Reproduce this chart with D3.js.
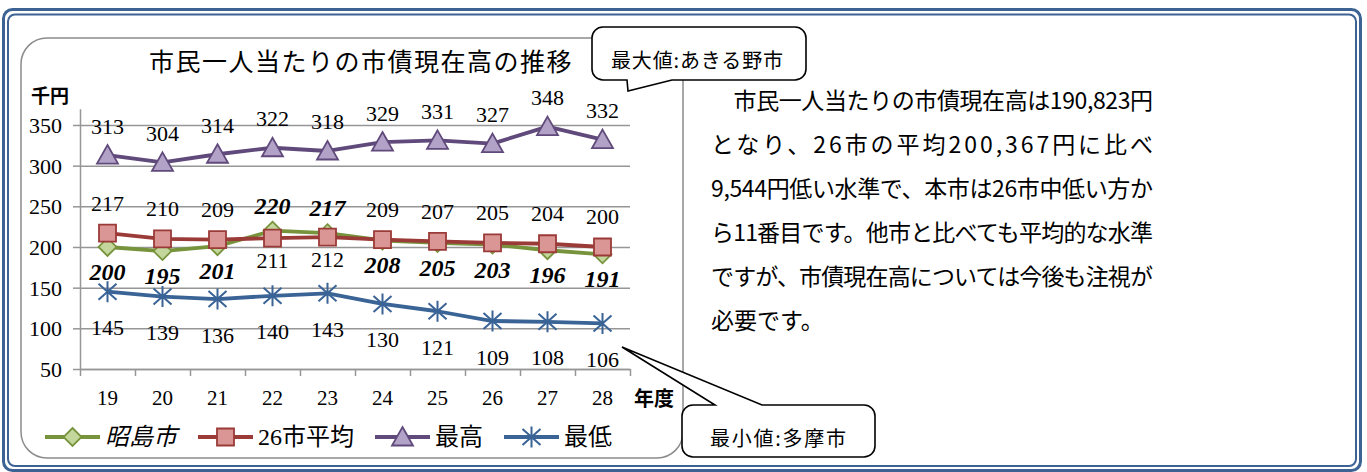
<!DOCTYPE html>
<html>
<head>
<meta charset="utf-8">
<script src="https://cdn.jsdelivr.net/npm/d3@7"></script>
<style>
  body { margin: 0; background: #fff; }
  svg { display: block; }
</style>
</head>
<body>
<div id="chart"></div>
<script>
// data (thousand yen)
var years = ["19", "20", "21", "22", "23", "24", "25", "26", "27", "28"];
var akishima = [200, 195, 201, 220, 217, 208, 205, 203, 196, 191];
var average26 = [217, 210, 209, 211, 212, 209, 207, 205, 204, 200];
var highest = [313, 304, 314, 322, 318, 329, 331, 327, 348, 332];
var lowest = [145, 139, 136, 140, 143, 130, 121, 109, 108, 106];
var yTicks = [50, 100, 150, 200, 250, 300, 350];
var seriesNames = ["昭島市", "26市平均", "最高", "最低"];

var chartTitle = "市民一人当たりの市債現在高の推移";
var noteLines = [
	"　市民一人当たりの市債現在高は190,823円",
	"となり、26市の平均200,367円に比べ",
	"9,544円低い水準で、本市は26市中低い方か",
	"ら11番目です。他市と比べても平均的な水準",
	"ですが、市債現在高については今後も注視が",
	"必要です。"
];

var W = 1367, H = 472;
var serif = "'Liberation Serif','Noto Sans CJK JP',serif";
var gothic = "'Noto Sans CJK JP','Noto Sans',sans-serif";

var svg = d3.select("#chart").append("svg")
	.attr("width", W)
	.attr("height", H);

// outer double frame
svg.append("rect").attr("x", 3.5).attr("y", 9.5).attr("width", 1357).attr("height", 461)
	.attr("rx", 9).attr("fill", "none").attr("stroke", "#3d6395").attr("stroke-width", 3);
svg.append("rect").attr("x", 8).attr("y", 14.5).attr("width", 1348).attr("height", 451.5)
	.attr("rx", 7).attr("fill", "none").attr("stroke", "#3d6395").attr("stroke-width", 2);

// chart box
svg.append("rect").attr("x", 21).attr("y", 38).attr("width", 662).attr("height", 420)
	.attr("rx", 26).attr("fill", "#fff").attr("stroke", "#8c8c8c").attr("stroke-width", 1.5);

svg.append("text")
	.attr("x", 361).attr("y", 60)
	.attr("text-anchor", "middle").attr("dominant-baseline", "central")
	.style("font-family", gothic).style("font-size", "25px").style("letter-spacing", "1.5px")
	.text(chartTitle);

var x = d3.scaleBand().domain(years).range([80, 630]);
var y = d3.scaleLinear().domain([50, 370]).range([369, 108.7]);

// grid lines
var grid = svg.append("g").attr("transform", "translate(80,0)")
	.call(d3.axisLeft(y).tickValues(yTicks).tickSize(-550).tickFormat("").tickSizeOuter(0));
grid.select(".domain").remove();
grid.selectAll("line").attr("stroke", "#969696").attr("stroke-width", 1.5);

// y axis
var yAxis = svg.append("g").attr("transform", "translate(80,0)")
	.call(d3.axisLeft(y).tickValues(yTicks).tickSize(7).tickSizeOuter(0).tickPadding(11));
yAxis.select(".domain").attr("stroke", "#969696").attr("stroke-width", 1.5);
yAxis.selectAll("line").attr("stroke", "#969696").attr("stroke-width", 1.5);
yAxis.selectAll("text")
	.attr("dy", null).attr("dominant-baseline", "central")
	.style("font-family", serif).style("font-size", "22px").attr("fill", "#000");

// x axis: ticks on category boundaries, labels in the middle
var edge = d3.scaleLinear().domain([0, years.length]).range(x.range());
var xTicks = svg.append("g").attr("transform", "translate(0,369)")
	.call(d3.axisBottom(edge).ticks(years.length).tickFormat("").tickSize(7).tickSizeOuter(0));
xTicks.select(".domain").attr("stroke", "#969696").attr("stroke-width", 1.5);
xTicks.selectAll("line").attr("stroke", "#969696").attr("stroke-width", 1.5);

var xAxis = svg.append("g").attr("transform", "translate(0,369)")
	.call(d3.axisBottom(x).tickSize(0));
xAxis.select(".domain").remove();
xAxis.selectAll("text")
	.attr("y", 29).attr("dy", null).attr("dominant-baseline", "central")
	.style("font-family", serif).style("font-size", "21px").attr("fill", "#000");

svg.append("text").attr("x", 50).attr("y", 94)
	.attr("text-anchor", "middle").attr("dominant-baseline", "central")
	.style("font-family", gothic).style("font-size", "19px").style("font-weight", "bold")
	.text("千円");
svg.append("text").attr("x", 654).attr("y", 397)
	.attr("text-anchor", "middle").attr("dominant-baseline", "central")
	.style("font-family", gothic).style("font-size", "20px").style("font-weight", "bold")
	.text("年度");

// markers
function markerPath(kind) {
	if (kind == "diamond") return "M0,-9L9,0L0,9L-9,0Z";
	if (kind == "square") return "M-8.5,-8.5H8.5V8.5H-8.5Z";
	if (kind == "triangle") return "M0,-10L10.5,8.5L-10.5,8.5Z";
	return "M-9,-8L9,8M-9,8L9,-8M0,-10.5V10.5";
}

var series = [
	{ name: seriesNames[0], values: akishima, line: "#77933c", fill: "#c3d69b", marker: "diamond", bold: true },
	{ name: seriesNames[1], values: average26, line: "#9b3b38", fill: "#d99694", marker: "square" },
	{ name: seriesNames[2], values: highest, line: "#604a7b", fill: "#b3a2c7", marker: "triangle" },
	{ name: seriesNames[3], values: lowest, line: "#3a6396", fill: "none", marker: "star" }
];

var line = d3.line()
	.x(function(d, i) { return x(years[i]) + x.bandwidth() / 2; })
	.y(function(d) { return y(d); });

series.forEach(function(s) {
	var g = svg.append("g");
	g.append("path")
		.attr("d", line(s.values))
		.attr("fill", "none")
		.attr("stroke", s.line)
		.attr("stroke-width", 3.8)
		.attr("stroke-linejoin", "round");
	g.selectAll("path.mark")
		.data(s.values)
		.enter().append("path")
		.attr("class", "mark")
		.attr("d", markerPath(s.marker))
		.attr("transform", function(d, i) {
			return "translate(" + (x(years[i]) + x.bandwidth() / 2) + "," + y(d) + ")";
		})
		.attr("fill", s.fill)
		.attr("stroke", s.line)
		.attr("stroke-width", s.marker == "star" ? 2 : 1.8);
});

// data labels
function labelOffset(si, i) {
	if (si == 0) return akishima[i] > average26[i] ? -25 : 25;
	if (si == 1) return average26[i] >= akishima[i] ? -30 : 22;
	if (si == 2) return -29;
	return 36;
}

series.forEach(function(s, si) {
	svg.append("g").selectAll("text")
		.data(s.values)
		.enter().append("text")
		.attr("x", function(d, i) { return x(years[i]) + x.bandwidth() / 2; })
		.attr("y", function(d, i) { return y(d) + labelOffset(si, i); })
		.attr("text-anchor", "middle")
		.attr("dominant-baseline", "central")
		.style("font-family", serif)
		.style("font-size", s.bold ? "24px" : "22px")
		.style("font-weight", s.bold ? "bold" : "normal")
		.style("font-style", s.bold ? "italic" : "normal")
		.text(function(d) { return d; });
});

// legend
var lx = 45;
series.forEach(function(s) {
	var g = svg.append("g").attr("transform", "translate(" + lx + ",437)");
	g.append("line").attr("x1", 0).attr("x2", 55)
		.attr("stroke", s.line).attr("stroke-width", 3.8);
	g.append("path").attr("d", markerPath(s.marker))
		.attr("transform", "translate(27.5,0)")
		.attr("fill", s.fill).attr("stroke", s.line)
		.attr("stroke-width", s.marker == "star" ? 2 : 1.8);
	var t = g.append("text").attr("x", 60)
		.attr("dominant-baseline", "central")
		.style("font-family", serif).style("font-size", "24px")
		.style("font-style", s.bold ? "italic" : "normal")
		.text(s.name);
	lx += 60 + t.node().getComputedTextLength() + 21;
});

// callouts
function callout(bx, by, bw, bh, r, side, t1, tip, t2) {
	var p = d3.path();
	p.moveTo(bx + r, by);
	if (side == "top") { p.lineTo(t1, by); p.lineTo(tip[0], tip[1]); p.lineTo(t2, by); }
	p.lineTo(bx + bw - r, by);
	p.arcTo(bx + bw, by, bx + bw, by + r, r);
	p.lineTo(bx + bw, by + bh - r);
	p.arcTo(bx + bw, by + bh, bx + bw - r, by + bh, r);
	if (side == "bottom") { p.lineTo(t2, by + bh); p.lineTo(tip[0], tip[1]); p.lineTo(t1, by + bh); }
	p.lineTo(bx + r, by + bh);
	p.arcTo(bx, by + bh, bx, by + bh - r, r);
	p.lineTo(bx, by + r);
	p.arcTo(bx, by, bx + r, by, r);
	p.closePath();
	return p.toString();
}

svg.append("path")
	.attr("d", callout(592, 27, 214, 53, 11, "bottom", 627, [628, 91], 672))
	.attr("fill", "#fff").attr("stroke", "#000").attr("stroke-width", 1.6);
svg.append("text").attr("x", 697).attr("y", 59)
	.attr("text-anchor", "middle").attr("dominant-baseline", "central")
	.attr("textLength", 172).attr("lengthAdjust", "spacing")
	.style("font-family", gothic).style("font-size", "20px")
	.text("最大値:あきる野市");

svg.append("path")
	.attr("d", callout(682, 405, 193, 52, 11, "top", 715, [622, 347], 762))
	.attr("fill", "#fff").attr("stroke", "#000").attr("stroke-width", 1.6);
svg.append("text").attr("x", 778).attr("y", 437)
	.attr("text-anchor", "middle").attr("dominant-baseline", "central")
	.attr("textLength", 136).attr("lengthAdjust", "spacing")
	.style("font-family", gothic).style("font-size", "20px")
	.text("最小値:多摩市");

// commentary text, justified lines
svg.append("g").selectAll("text")
	.data(noteLines)
	.enter().append("text")
	.attr("x", 711)
	.attr("y", function(d, i) { return 99 + i * 44; })
	.attr("dominant-baseline", "central")
	.attr("textLength", function(d, i) { return i < noteLines.length - 1 ? 442 : null; })
	.attr("lengthAdjust", "spacing")
	.style("font-family", gothic).style("font-size", "23px")
	.text(function(d) { return d; });
</script>
</body>
</html>
